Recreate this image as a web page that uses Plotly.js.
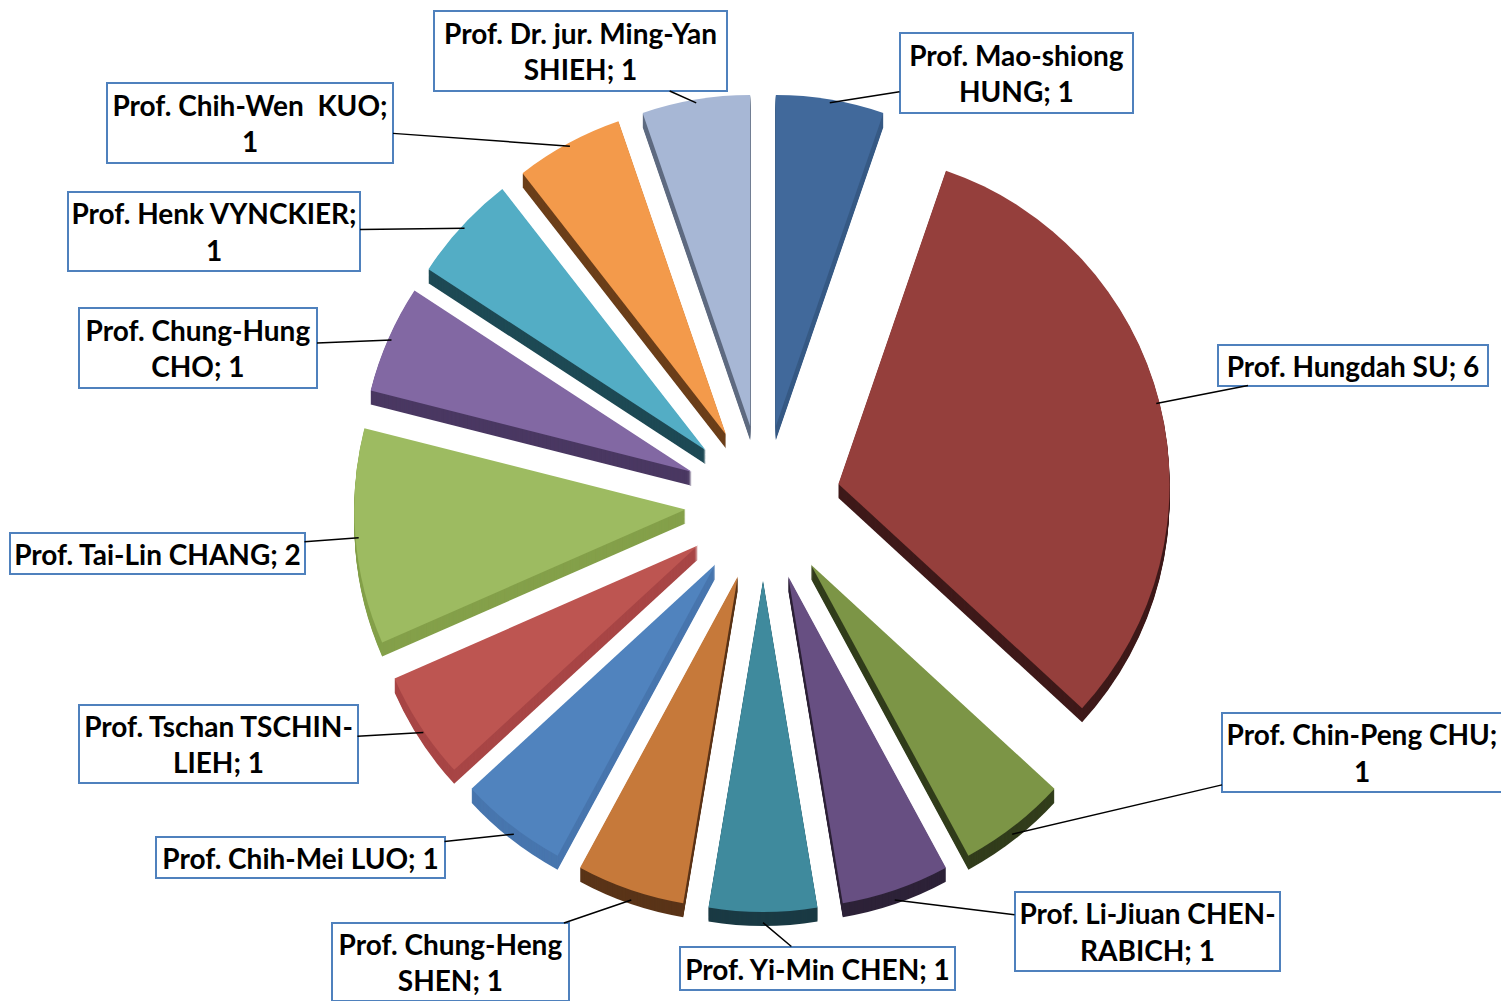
<!DOCTYPE html>
<html><head><meta charset="utf-8">
<script src="https://cdn.plot.ly/plotly-3.0.1.min.js"></script>
<style>html,body{margin:0;padding:0;background:#fff}</style>
</head><body><div id="chart" style="width:1501px;height:1001px"></div>
<script>
// ---- data ----
const names = [
  'Prof. Mao-shiong HUNG', 'Prof. Hungdah SU', 'Prof. Chin-Peng CHU',
  'Prof. Li-Jiuan CHEN-RABICH', 'Prof. Yi-Min CHEN', 'Prof. Chung-Heng SHEN',
  'Prof. Chih-Mei LUO', 'Prof. Tschan TSCHIN-LIEH', 'Prof. Tai-Lin CHANG',
  'Prof. Chung-Hung CHO', 'Prof. Henk VYNCKIER', 'Prof. Chih-Wen  KUO',
  'Prof. Dr. jur. Ming-Yan SHIEH'
];
const values = [1, 6, 1, 1, 1, 1, 1, 1, 2, 1, 1, 1, 1];
const labelText = [
  'Prof. Mao-shiong<br>HUNG; 1', 'Prof. Hungdah SU; 6', 'Prof. Chin-Peng CHU;<br>1',
  'Prof. Li-Jiuan CHEN-<br>RABICH; 1', 'Prof. Yi-Min CHEN; 1', 'Prof. Chung-Heng<br>SHEN; 1',
  'Prof. Chih-Mei LUO; 1', 'Prof. Tschan TSCHIN-<br>LIEH; 1', 'Prof. Tai-Lin CHANG; 2',
  'Prof. Chung-Hung<br>CHO; 1', 'Prof. Henk VYNCKIER;<br>1', 'Prof. Chih-Wen&nbsp; KUO;<br>1',
  'Prof. Dr. jur. Ming-Yan<br>SHIEH; 1'
];
const topColors = ['#41699B','#953F3C','#7C9546','#674F82','#3F8A9D','#C6793A','#5083BE',
                   '#BD5551','#9DBB61','#8268A3','#53ADC5','#F39A4B','#A7B7D5'];
const sideColors = ['#375A85','#3F1A1A','#323D1C','#2D2238','#1A3A44','#5A3418','#4876AE',
                    '#A84646','#84A04A','#4A3862','#1E4A55','#6B3E19','#5F6B80'];

// ---- layout (label box centres and sizes, px) ----
const labelPos = [[1016,73],[1353,365],[1362,752],[1147,931],[817,968],[450,962],
                  [300,857],[218,744],[157,553],[198,348],[214,231],[250,123],[580,51]];
const boxSize = [[235,82],[272,43],[282,81],[267,81],[277,45],[239,80],
                 [291,43],[281,80],[297,43],[240,82],[294,81],[288,82],[295,82]];

const W = 1501, H = 1001, CX = 763, CY = 503, HALF = 409, PULL = 0.235, DEPTH = 14;
function domainFor(dy) {
  return {x: [(CX - HALF) / W, (CX + HALF) / W],
          y: [1 - (CY + dy + HALF) / H, 1 - (CY + dy - HALF) / H]};
}
const base = {
  type: 'pie', labels: names, values: values, sort: false, direction: 'clockwise',
  rotation: 0, pull: PULL, textinfo: 'none', showlegend: false
};
const traces = [];
for (let d = DEPTH; d >= 1; d--) {
  traces.push(Object.assign({}, base, {
    domain: domainFor(d), hoverinfo: 'skip',
    marker: {colors: sideColors, line: {width: 0}}
  }));
}
traces.push(Object.assign({}, base, {
  domain: domainFor(0), marker: {colors: topColors, line: {width: 0}}
}));

// leader-line anchor points computed from the pie geometry
const total = values.reduce((a, b) => a + b, 0);
const r = HALF / (1 + PULL);
let cum = 0;
const annotations = values.map((v, i) => {
  const mid = (cum + v / 2) / total * 2 * Math.PI;
  cum += v;
  const dist = PULL * r + r * 0.99;
  const px = CX + dist * Math.sin(mid);
  const py = CY - dist * Math.cos(mid) + DEPTH * Math.max(0, -Math.cos(mid));
  const [lx, ly] = labelPos[i];
  const [bw, bh] = boxSize[i];
  return {
    xref: 'paper', yref: 'paper', x: px / W, y: 1 - py / H,
    ax: lx - px, ay: ly - py, text: labelText[i],
    showarrow: true, arrowhead: 0, arrowwidth: 1.5, arrowcolor: '#000', standoff: 0,
    bordercolor: '#4F81BD', borderwidth: 2, borderpad: 1, bgcolor: '#ffffff',
    width: bw - 6, height: bh - 6, align: 'center', valign: 'middle',
    font: {family: 'Lato', size: 28, color: '#000', weight: 700}
  };
});

Plotly.newPlot('chart', traces, {
  width: W, height: H, margin: {l: 0, r: 0, t: 0, b: 0},
  paper_bgcolor: '#fff', plot_bgcolor: '#fff', showlegend: false,
  annotations: annotations
}, {displayModeBar: false, staticPlot: true});
</script></body></html>
